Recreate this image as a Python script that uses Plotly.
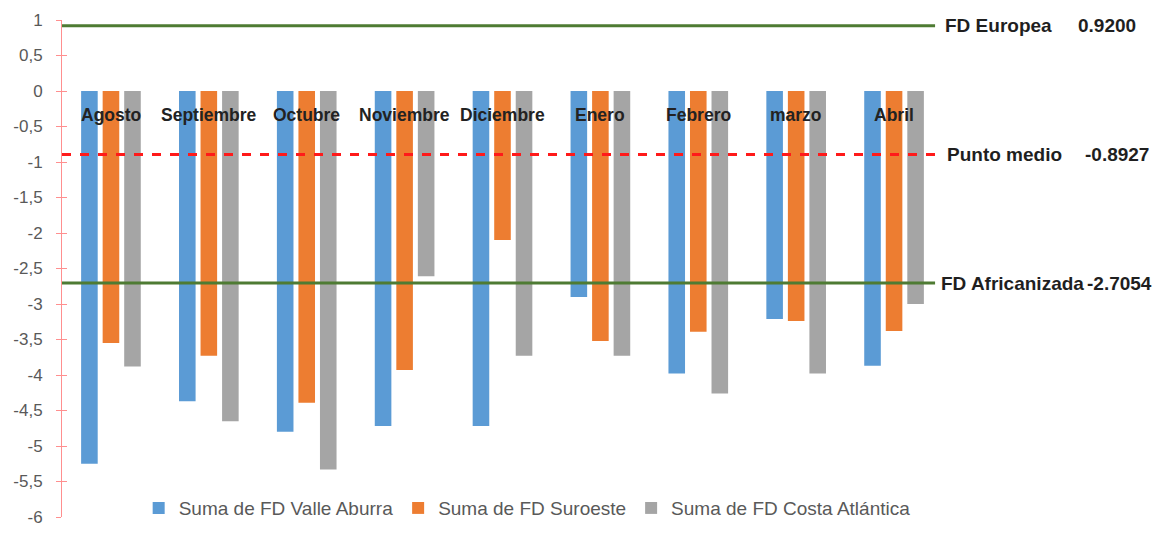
import plotly.graph_objects as go

# Months (categories) and the three regional series
meses = ["Agosto", "Septiembre", "Octubre", "Noviembre", "Diciembre",
         "Enero", "Febrero", "marzo", "Abril"]
valle_aburra = [-5.25, -4.37, -4.80, -4.72, -4.72, -2.90, -3.98, -3.21, -3.87]
suroeste = [-3.55, -3.73, -4.39, -3.93, -2.10, -3.52, -3.39, -3.24, -3.38]
costa_atlantica = [-3.88, -4.65, -5.33, -2.61, -3.73, -3.73, -4.26, -3.98, -3.00]

series_names = ["Suma de FD Valle Aburra", "Suma de FD Suroeste",
                "Suma de FD Costa Atlántica"]
series_colors = ["#5B9BD5", "#ED7D31", "#A5A5A5"]

# Reference levels drawn across the chart
ref_names = ["FD Europea", "Punto medio", "FD Africanizada"]
ref_values = [0.9200, -0.8927, -2.7054]
ref_colors = ["#4E7B33", "#FF1A1A", "#4E7B33"]
ref_dash = ["solid", "dash", "solid"]
# horizontal offsets (px from the right edge of the plot) of name and value text
ref_name_shift = [0, 2, -4]
ref_value_shift = [133, 140, 142]

y_ticks = [1, 0.5, 0, -0.5, -1, -1.5, -2, -2.5, -3, -3.5, -4, -4.5, -5, -5.5, -6]
y_tick_text = ["1", "0,5", "0", "-0,5", "-1", "-1,5", "-2", "-2,5", "-3",
               "-3,5", "-4", "-4,5", "-5", "-5,5", "-6"]

fig = go.Figure()
for name, vals, col in zip(series_names, [valle_aburra, suroeste, costa_atlantica],
                           series_colors):
    fig.add_trace(go.Bar(x=meses, y=vals, name=name, marker_color=col,
                         marker_line_width=0))

label_font = dict(family="Liberation Sans, Arial", size=19, color="#1F1F1F",
                  weight="bold")

# Horizontal reference lines with their labels at the right end
for name, val, col, dash, ns, vs in zip(ref_names, ref_values, ref_colors,
                                        ref_dash, ref_name_shift, ref_value_shift):
    fig.add_shape(type="line", xref="paper", yref="y", x0=0, x1=0.991,
                  y0=val, y1=val, line=dict(color=col, width=3, dash=dash))
    fig.add_annotation(xref="paper", yref="y", x=1.0, y=val, xanchor="left",
                       yanchor="middle", showarrow=False, text=name, xshift=ns,
                       font=label_font)
    fig.add_annotation(xref="paper", yref="y", x=1.0, y=val, xanchor="left",
                       yanchor="middle", showarrow=False,
                       text=f"{val:.4f}", xshift=vs, font=label_font)

# Month names written just below the zero line, over each group
for m in meses:
    fig.add_annotation(x=m, y=-0.34, xref="x", yref="y", showarrow=False,
                       text=m, yanchor="middle",
                       font=dict(family="Liberation Sans, Arial", size=17.5,
                                 color="#222222", weight="bold"))

axis_red = "#FF8F8F"
fig.update_layout(
    width=1157, height=535,
    margin=dict(l=62, r=214, t=20, b=8),
    paper_bgcolor="white", plot_bgcolor="white",
    barmode="group", bargap=0.34, bargroupgap=0.23,
    font=dict(family="Liberation Sans, Arial", color="#595959"),
    xaxis=dict(showticklabels=False, showline=False, showgrid=False,
               zeroline=False, ticks=""),
    yaxis=dict(range=[-6, 1], tickvals=y_ticks, ticktext=y_tick_text,
               showgrid=False, zeroline=False,
               showline=True, linecolor=axis_red, linewidth=1,
               ticks="outside", ticklen=5, tickcolor=axis_red, tickwidth=1,
               ticklabelstandoff=10,
               tickfont=dict(size=17, color="#595959")),
    yaxis2=dict(range=[-6, 1], tickvals=y_ticks, overlaying="y", side="left",
                showgrid=False, zeroline=False, showline=False,
                ticks="inside", ticklen=5, tickcolor=axis_red, tickwidth=1,
                showticklabels=False),
    legend=dict(orientation="h", x=0.528, xanchor="center", y=0.018,
                yanchor="middle", bgcolor="rgba(0,0,0,0)",
                font=dict(size=19, color="#595959"), itemwidth=30),
)
# invisible trace to attach the inner tick marks of the crossing axis ticks
fig.add_trace(go.Scatter(x=[meses[0]], y=[None], yaxis="y2", showlegend=False,
                         hoverinfo="skip"))

fig.write_html("out.html")
